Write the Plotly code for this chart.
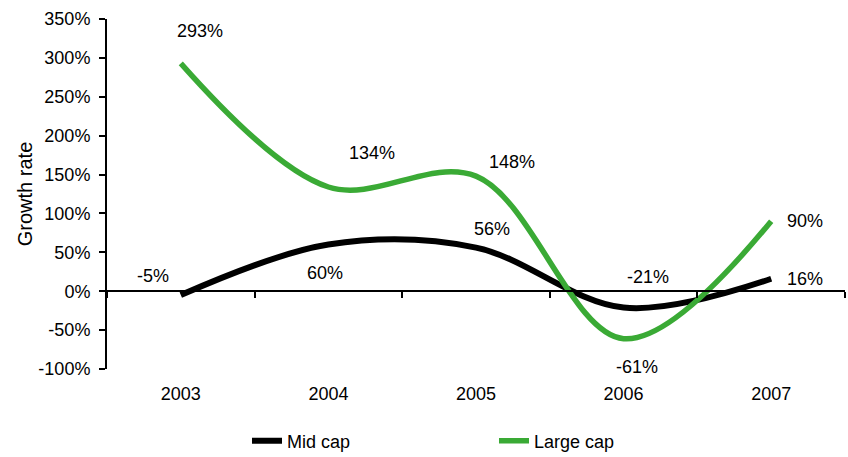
import plotly.graph_objects as go

years = ["2003", "2004", "2005", "2006", "2007"]
mid_cap = [-5, 60, 56, -21, 16]
large_cap = [293, 134, 148, -61, 90]
y_tick_values = [-100, -50, 0, 50, 100, 150, 200, 250, 300, 350]
y_tick_labels = ["-100%", "-50%", "0%", "50%", "100%", "150%", "200%", "250%", "300%", "350%"]

# label offsets in pixels (xshift, yshift)
mid_offsets = [(-28, 19), (-3, -28), (16, 19), (24, 31), (34, 0)]
large_offsets = [(19, 32), (44, 34), (36, 14), (13, -28), (34, 0)]

FONT = "Liberation Sans, Arial, sans-serif"
FS = 18
GREEN = "#3AAA35"

idx = list(range(len(years)))

fig = go.Figure()
fig.add_trace(go.Scatter(x=idx, y=mid_cap, name="Mid cap", mode="lines",
                         line=dict(color="black", width=6, shape="spline", smoothing=1.0)))
fig.add_trace(go.Scatter(x=idx, y=large_cap, name="Large cap", mode="lines",
                         line=dict(color=GREEN, width=5.5, shape="spline", smoothing=1.0)))

for vals, offs in ((mid_cap, mid_offsets), (large_cap, large_offsets)):
    for i, v, (dx, dy) in zip(idx, vals, offs):
        fig.add_annotation(x=i, y=v, xref="x", yref="y", text=f"{v}%", showarrow=False,
                           xshift=dx, yshift=dy,
                           font=dict(size=FS, color="black", family=FONT))

ymin, ymax = -100, 350
boundaries = [i - 0.5 for i in range(len(years) + 1)]

fig.update_layout(
    width=848, height=457,
    margin=dict(l=107, r=3, t=19, b=88, autoexpand=False),
    paper_bgcolor="white", plot_bgcolor="white",
    font=dict(family=FONT, size=FS, color="black"),
    showlegend=True,
    legend=dict(orientation="h", x=0.1897, xanchor="left", y=-0.206, yanchor="middle",
                font=dict(size=FS), entrywidth=202, itemwidth=30),
    # axis line at zero with boundary ticks
    xaxis=dict(range=[-0.5, len(years) - 0.5], tickmode="array", tickvals=boundaries,
               showticklabels=False,
               showline=True, linecolor="black", linewidth=2,
               ticks="outside", ticklen=6, tickwidth=2, tickcolor="black",
               anchor="free", position=(0 - ymin) / (ymax - ymin),
               showgrid=False, zeroline=False, automargin=False),
    # category labels at the bottom
    xaxis2=dict(range=[-0.5, len(years) - 0.5], tickmode="array", tickvals=idx, ticktext=years,
                overlaying="x", anchor="y", side="bottom", showline=False, ticks="",
                showgrid=False, zeroline=False, tickfont=dict(size=FS),
                ticklabelstandoff=12, automargin=False),
    yaxis=dict(range=[ymin, ymax], tickmode="array", tickvals=y_tick_values, ticktext=y_tick_labels,
               showline=True, linecolor="black", linewidth=2,
               ticks="outside", ticklen=6, tickwidth=2, tickcolor="black",
               showgrid=False, zeroline=False, tickfont=dict(size=FS),
               ticklabelstandoff=5, automargin=False,
               title=dict(text="Growth rate", font=dict(size=20), standoff=0)),
)
# invisible trace to bind the label axis
fig.add_trace(go.Scatter(x=idx, y=mid_cap, xaxis="x2", yaxis="y", mode="lines",
                         line=dict(width=0), showlegend=False, hoverinfo="skip", opacity=0))

fig.write_html("out.html", config={"displayModeBar": False},
               post_script="document.body.style.margin='0';")
